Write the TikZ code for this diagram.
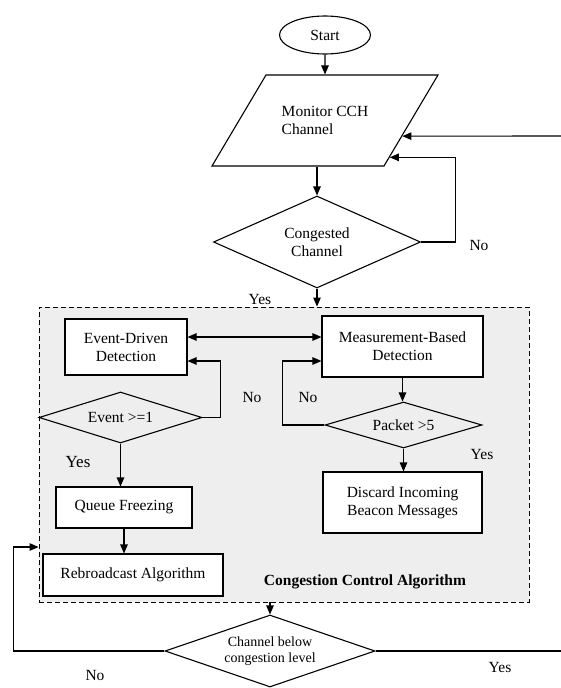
\documentclass[tikz,border=0pt]{standalone}
\usepackage{fontspec}
\setmainfont{Liberation Serif}
\usetikzlibrary{shapes.geometric, arrows.meta, calc}

\begin{document}
\begin{tikzpicture}[
        x=1pt, y=-1pt,
        font=\fontsize{15.5}{18}\selectfont,
        >={Triangle[length=9pt, width=7.5pt]},
        line width=1.1pt,
        procbox/.style={draw, fill=white, rectangle, inner sep=2pt, align=center},
        decision/.style={draw, diamond, inner sep=0pt, align=center},
        tag/.style={inner sep=1pt}
    ]

        % Page frame
        \useasboundingbox (0,0) rectangle (561,688);

        % Outer monitoring loop
        \node[draw, ellipse, minimum width=91pt, minimum height=38pt] (start) at (325,35) {Start};
        \node[draw, trapezium, trapezium left angle=58, trapezium right angle=122,
            trapezium stretches body, inner xsep=4pt, inner ysep=29pt,
            minimum width=226pt, minimum height=91pt,
            align=left] (monitor) at (325,120.5) {Monitor CCH\\Channel};
        \node[decision, minimum width=207pt, minimum height=92pt, shape aspect=2.25] (congested) at (317,242) {Congested\\Channel};

        % Congestion control block (dashed)
        \node[draw, line width=0.9pt, dash pattern=on 5pt off 3pt, fill=gray!13,
            minimum width=490pt, minimum height=295pt, inner sep=0pt] (cca) at (284,454.5) {};
        \node[font=\fontsize{15.5}{18}\selectfont\bfseries] (ccalabel) at (365,582) {Congestion Control Algorithm};

        % Event-driven branch
        \node[procbox, minimum width=122pt, minimum height=56pt] (event) at (126,347) {Event-Driven\\Detection};
        \node[decision, minimum width=163pt, minimum height=51pt, shape aspect=3.2] (eventq) at (120.5,417.5) {Event >=1};
        \node[procbox, minimum width=136pt, minimum height=41pt] (queue) at (124,507.5) {Queue Freezing};
        \node[procbox, minimum width=180pt, minimum height=42pt] (rebro) at (133,575) {Rebroadcast Algorithm};

        % Measurement-based branch
        \node[procbox, minimum width=161pt, minimum height=61pt] (measure) at (402.5,346.5) {Measurement-Based\\Detection};
        \node[decision, minimum width=157pt, minimum height=46pt, shape aspect=3.4] (packet) at (403.5,425) {Packet >5};
        \node[procbox, minimum width=159pt, minimum height=61pt] (discard) at (402.5,502.5) {Discard Incoming\\Beacon Messages};

        % Final check
        \node[decision, fill=white, minimum width=210pt, minimum height=72pt, shape aspect=2.9,
            font=\fontsize{14}{15.5}\selectfont] (below) at (270,651) {Channel below\\congestion level};

        % Branch labels
        \node[tag] (lno1) at (479,245) {No};
        \node[tag] (lyes1) at (260,299) {Yes};
        \node[tag] (lno2) at (252,397) {No};
        \node[tag] (lno3) at (308,397) {No};
        \node[tag, font=\fontsize{17}{20}\selectfont] (lyes2) at (78,462) {Yes};
        \node[tag] (lyes3) at (482,454) {Yes};
        \node[tag] (lno4) at (95,675) {No};
        \node[tag] (lyes4) at (500,667) {Yes};

        % Free ends at the right edge
        \coordinate (backin) at (561,136);
        \coordinate (yesend) at (561,651);
        \coordinate (edlink) at ([yshift=10pt]event.east);

        % Connectors
        \draw[->] (start) -- (monitor);
        \draw[->] (congested.north |- monitor.south) -- (congested.north);
        \draw[->] (congested.east) -- ++(34,0) |- ($(monitor.bottom right corner)!0.1!(monitor.top right corner)$);
        \draw[->] (backin) -- ($(monitor.bottom right corner)!0.33!(monitor.top right corner)$);
        \draw[->] (congested.south) -- (congested.south |- cca.north);
        \draw[<->] (edlink) -- (edlink -| measure.west);
        \draw[->] (eventq.east) -- ++(18,0) |- ([yshift=-14pt]event.east);
        \draw[->] (eventq.south) -- (eventq.south |- queue.north);
        \draw[->] (queue.south) -- (queue.south |- rebro.north);
        \draw[->] (measure.south) -- (measure.south |- packet.north);
        \draw[->] (packet.west) -- ++(-42,0) |- ([yshift=-14.5pt]measure.west);
        \draw[->] (packet.south) -- (packet.south |- discard.north);
        \draw[->] (below.north |- cca.south) -- (below.north);
        \draw[->] (below.west) -- ++(-151,0) |- ([yshift=-92.5pt]cca.west);
        \draw (below.east) -- (yesend);

    \end{tikzpicture}
\end{document}
